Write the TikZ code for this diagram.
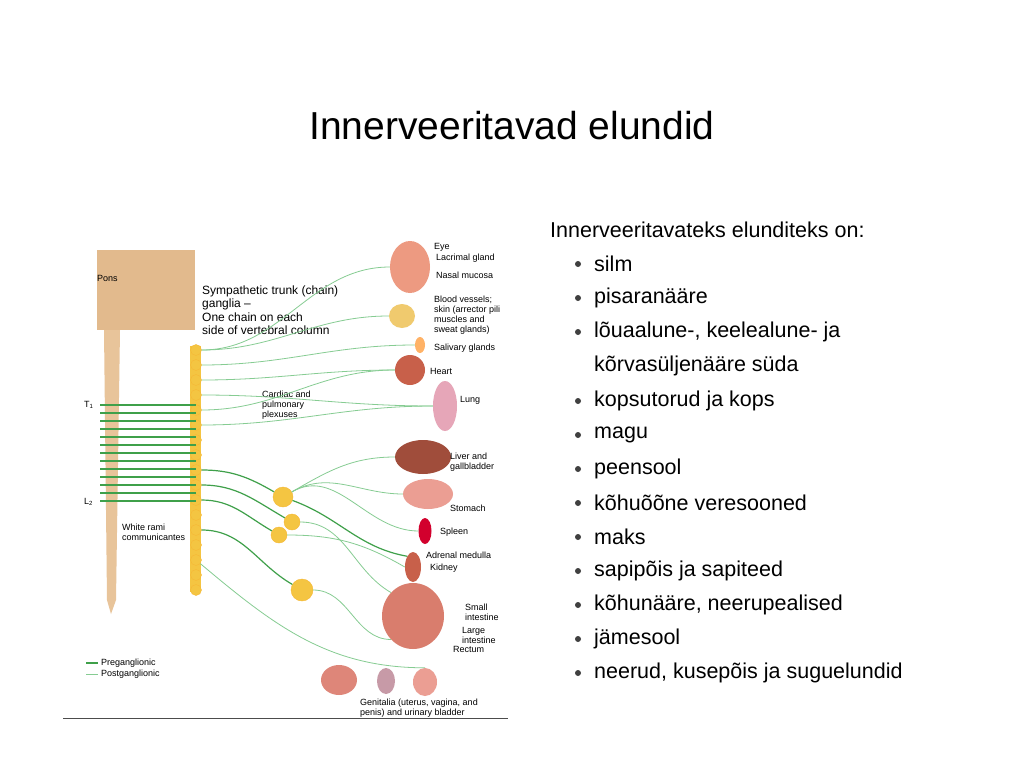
\documentclass[tikz,border=0pt]{standalone}
\usepackage{fontspec}
\setmainfont{Liberation Sans}
\usetikzlibrary{positioning,shapes.geometric}
\definecolor{pregreen}{HTML}{3FA04A}
\definecolor{postgreen}{HTML}{86CC92}
\definecolor{cordtan}{HTML}{E8C49A}
\definecolor{gangyel}{HTML}{F4C542}
\definecolor{organred}{HTML}{C8604A}
\definecolor{organpink}{HTML}{E6A6B8}
\tikzset{
  pregang/.style={draw=pregreen, line width=1.2pt},
  postgang/.style={draw=postgreen, line width=0.8pt},
  ganglion/.style={circle, fill=gangyel, draw=gangyel!80!orange, inner sep=0pt},
  organ/.style={ellipse, inner sep=0pt},
  lbl/.style={font=\fontsize{9}{10}\selectfont, align=left, anchor=west, inner sep=0pt},
  item/.style={font=\fontsize{21.5}{24}\selectfont, anchor=west, inner sep=0pt},
  dot/.style={circle, fill=black!75, minimum size=6pt, inner sep=0pt}
}
\begin{document}
\begin{tikzpicture}[x=1pt, y=-1pt]
\useasboundingbox[fill=white] (0,0) rectangle (1024,768);
% title
\node (title) at (512,126) {\fontsize{39}{42}\selectfont Innerveeritavad elundid};
% bullet list
\node[item] (intro) at (550,230) {Innerveeritavateks elunditeks on:};
\foreach \y/\t in {264/silm, 298/pisaranääre, 332/{lõuaalune-, keelealune- ja},
  401/kopsutorud ja kops, 435/magu, 469/peensool, 503/kõhuõõne veresooned,
  537/maks, 571/sapipõis ja sapiteed, 605/{kõhunääre, neerupealised},
  639/jämesool, 673/{neerud, kusepõis ja suguelundid}} {
  \node[dot] at (578,\y) {};
  \node[item] at (594,\y) {\t};
}
\node[item] (cont) at (594,366) {kõrvasüljenääre süda};
% figure: brain and spinal cord
\fill[cordtan!85!brown] (97,250) rectangle (195,330);
\node[lbl] (pons) at (97,278) {Pons};
\fill[cordtan] (104,330) -- (120,330) -- (116,600) -- (111,614) -- (107,600) -- cycle;
\node[lbl] (t1) at (84,405) {T\textsubscript{1}};
\node[lbl] (l2) at (84,502) {L\textsubscript{2}};
% chain of ganglia
\fill[gangyel] (190,346) rectangle (201,592);
\foreach \i in {0,...,16}
  \node[ganglion, minimum size=11pt] (g\i) at (196,350+15*\i) {};
\foreach \i in {0,...,12}
  \draw[pregang] (100,405+8*\i) -- (196,405+8*\i);
\node[lbl, font=\fontsize{12}{13.5}\selectfont] (chainlbl) at (202,310) {Sympathetic trunk (chain)\\
  ganglia --\\ One chain on each\\ side of vertebral column};
\node[lbl] (cardlbl) at (262,405) {Cardiac and\\pulmonary\\plexuses};
\node[lbl] (ramilbl) at (122,532) {White rami\\communicantes};
% collateral ganglia
\node[ganglion, minimum size=20pt] (celiac) at (283,497) {};
\node[ganglion, minimum size=16pt] (supmes) at (292,522) {};
\node[ganglion, minimum size=16pt] (aorren) at (279,535) {};
\node[ganglion, minimum size=22pt] (infmes) at (302,590) {};
% organs
\node[organ, fill=organpink!70!orange, minimum width=40pt, minimum height=52pt] (eye) at (410,267) {};
\node[organ, fill=organpink!60!yellow, minimum width=26pt, minimum height=24pt] (skin) at (402,316) {};
\node[organ, fill=orange!60, minimum width=10pt, minimum height=16pt] (saliv) at (420,345) {};
\node[organ, fill=organred, minimum width=30pt, minimum height=30pt] (heart) at (410,370) {};
\node[organ, fill=organpink, minimum width=24pt, minimum height=50pt] (lung) at (445,406) {};
\node[organ, fill=organred!80!black, minimum width=56pt, minimum height=34pt] (liver) at (423,457) {};
\node[organ, fill=organpink!80!orange, minimum width=50pt, minimum height=30pt] (stomach) at (428,494) {};
\node[organ, fill=purple!70!red, minimum width=13pt, minimum height=26pt] (spleen) at (425,531) {};
\node[organ, fill=organred, minimum width=16pt, minimum height=30pt] (kidney) at (413,567) {};
\node[organ, fill=organred!70!pink, minimum width=62pt, minimum height=66pt] (gut) at (413,616) {};
\node[organ, fill=organred!60!pink, minimum width=36pt, minimum height=30pt] (uterus) at (339,680) {};
\node[organ, fill=organpink!70!gray, minimum width=18pt, minimum height=26pt] (penis) at (386,681) {};
\node[organ, fill=organpink!80!orange, minimum width=24pt, minimum height=28pt] (bladder) at (425,682) {};
% organ labels
\node[lbl] at (434,247) {Eye};
\node[lbl] at (436,258) {Lacrimal gland};
\node[lbl] at (436,275) {Nasal mucosa};
\node[lbl] at (434,315) {Blood vessels;\\skin (arrector pili\\muscles and\\sweat glands)};
\node[lbl] at (434,348) {Salivary glands};
\node[lbl] at (430,371) {Heart};
\node[lbl] at (460,400) {Lung};
\node[lbl] at (450,462) {Liver and\\gallbladder};
\node[lbl] at (450,508) {Stomach};
\node[lbl] at (440,532) {Spleen};
\node[lbl] at (426,555) {Adrenal medulla};
\node[lbl] at (430,568) {Kidney};
\node[lbl] at (465,612) {Small\\intestine};
\node[lbl] at (462,635) {Large\\intestine};
\node[lbl] at (453,649) {Rectum};
\node[lbl] at (360,708) {Genitalia (uterus, vagina, and\\penis) and urinary bladder};
% postganglionic connectors
\foreach \g/\o in {g0/eye, g0/skin, g1/saliv, g2/heart, g3/lung, g4/heart, g5/lung}
  \draw[postgang] (\g) to[out=0, in=180] (\o.west);
\foreach \o in {liver, stomach, spleen}
  \draw[postgang] (celiac) to[out=30, in=180] (\o.west);
\draw[postgang] (supmes) to[out=0, in=150] (gut.north west);
\draw[postgang] (aorren) to[out=0, in=150] (kidney.west);
\draw[postgang] (infmes) to[out=0, in=180] (gut.south west);
\draw[postgang] (g14) to[out=-40, in=180] (bladder.north);
% preganglionic connectors
\foreach \g/\o in {g8/celiac, g9/supmes, g10/aorren, g12/infmes}
  \draw[pregang] (\g) to[out=0, in=150] (\o);
\draw[pregang] (celiac) to[out=-20, in=170] (kidney.north west);
% legend
\draw[pregang] (86,663) -- (98,663);
\draw[postgang] (86,674) -- (98,674);
\node[lbl] at (101,663) {Preganglionic};
\node[lbl] at (101,674) {Postganglionic};
\draw[black!70, line width=1pt] (63,718) -- (508,718);
\end{tikzpicture}
\end{document}
